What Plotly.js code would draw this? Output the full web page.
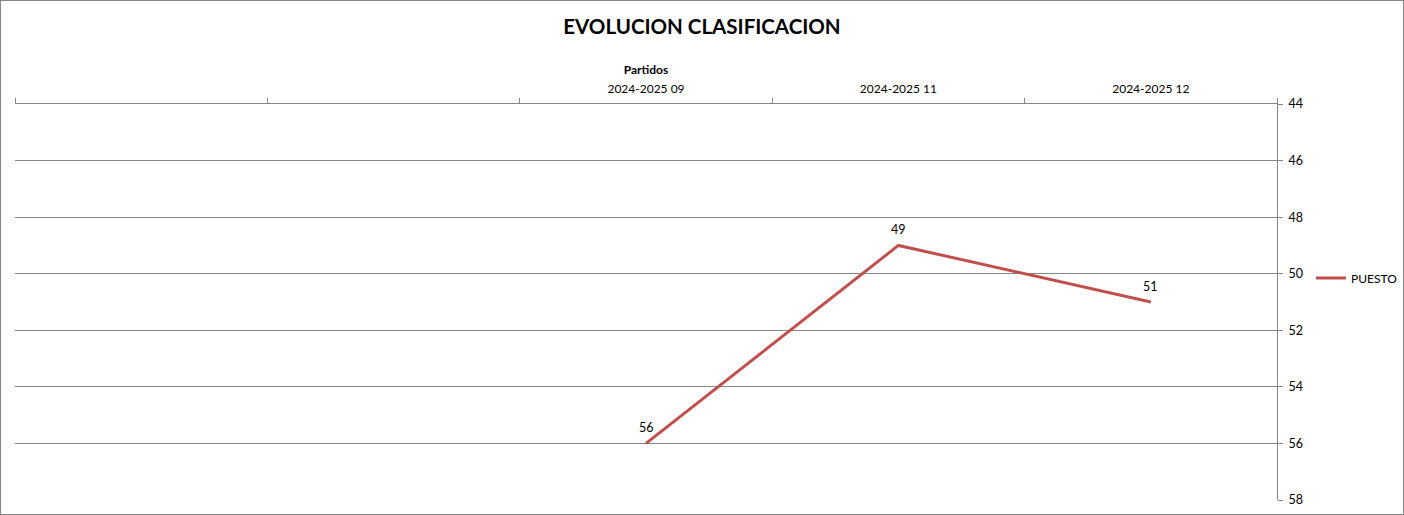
<!DOCTYPE html>
<html><head><meta charset="utf-8">
<script src="https://cdn.plot.ly/plotly-3.0.1.min.js"></script>
<style>
html,body{margin:0;padding:0;background:#fff;}
#chart{width:1402px;height:513px;border:1px solid #868686;}
</style></head>
<body><div id="chart"></div>
<script>
const categories = [" ", "  ", "2024-2025 09", "2024-2025 11", "2024-2025 12"];
const partidos = ["2024-2025 09", "2024-2025 11", "2024-2025 12"];
const puesto = [56, 49, 51];
const seriesName = "PUESTO";
const yTicks = [44, 46, 48, 50, 52, 54, 56, 58];

const FONT = "Lato, 'Open Sans', sans-serif";
const GRID = "#868686";

const trace = {
  x: partidos, y: puesto, name: seriesName,
  type: "scatter", mode: "lines",
  line: {color: "#C0504D", width: 3},
  cliponaxis: false
};

const labels = partidos.map((p, i) => ({
  x: p, y: puesto[i], xref: "x", yref: "y", text: String(puesto[i]),
  showarrow: false, yanchor: "bottom", yshift: 6,
  font: {family: FONT, size: 12.5, color: "#000"}
}));

const layout = {
  width: 1402, height: 513,
  margin: {l: 14, r: 126, t: 103, b: 14},
  paper_bgcolor: "#fff", plot_bgcolor: "#fff",
  font: {family: FONT, size: 12, color: "#000"},
  title: {text: "<b>EVOLUCION CLASIFICACION</b>", font: {family: FONT, size: 20.5, color: "#000"},
          x: 0.5, xanchor: "center", y: 1 - 26/513, yanchor: "middle", yref: "container"},
  xaxis: {
    type: "category", categoryorder: "array", categoryarray: categories,
    side: "top", tickson: "boundaries", ticks: "outside", ticklen: 5, tickcolor: GRID,
    showline: true, linecolor: GRID, linewidth: 1, showgrid: false, zeroline: false,
    range: [-0.5, 4.5], fixedrange: true, ticklabelstandoff: 5,
    tickfont: {family: FONT, size: 12, color: "#000"},
    title: {text: "<b>Partidos</b>", font: {family: FONT, size: 12, color: "#000"}, standoff: 4}
  },
  yaxis: {
    autorange: false, range: [58, 44], side: "right",
    tickvals: yTicks, ticks: "outside", ticklen: 5, tickcolor: GRID,
    showline: true, linecolor: GRID, linewidth: 1, ticklabelstandoff: 3,
    showgrid: true, gridcolor: GRID, gridwidth: 1, zeroline: false,
    tickfont: {family: FONT, size: 12.5, color: "#000"}
  },
  annotations: labels,
  showlegend: true,
  legend: {xref: "container", x: 1310/1402, xanchor: "left", yref: "container", y: 1 - 277/513, yanchor: "middle",
           font: {family: FONT, size: 12, color: "#000"}, bgcolor: "rgba(0,0,0,0)",
           itemwidth: 30}
};

Plotly.newPlot("chart", [trace], layout, {displayModeBar: false, staticPlot: true});
</script></body></html>
